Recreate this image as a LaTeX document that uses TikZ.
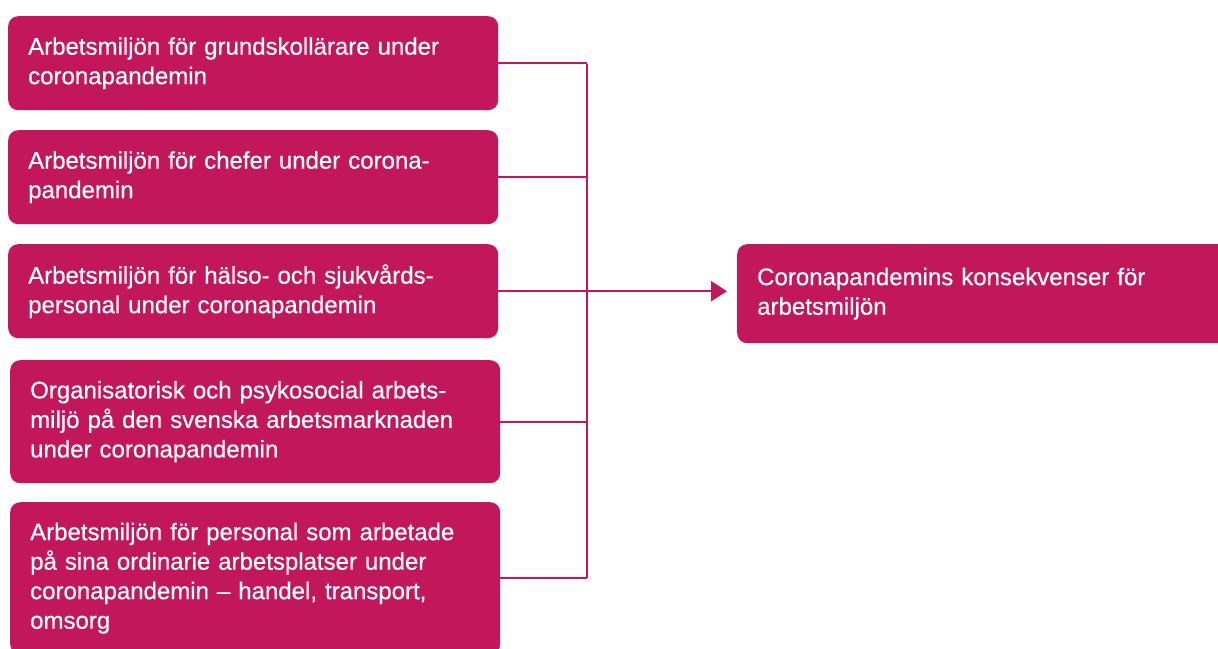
\documentclass[tikz,border=0pt]{standalone}
\usepackage{fontspec}
\setmainfont{Liberation Sans}[FakeBold=0.5]
\usetikzlibrary{arrows.meta}
\definecolor{rasp}{HTML}{C2185B}
\begin{document}
\begin{tikzpicture}[x=1pt,y=-1pt,
  box/.style={fill=rasp, rounded corners=10pt, anchor=north west, inner xsep=20pt, inner ysep=0pt,
    text=white, align=left, font=\fontsize{24}{29.5}\selectfont},
  conn/.style={draw=rasp, line width=2.4pt}]
\useasboundingbox (0,0) rectangle (1218,648);
\clip (0,0) rectangle (1218,648);
\node[box, minimum width=490pt, minimum height=94pt, text width=450pt] (b1) at (8,16)
  {Arbetsmiljön för grundskollärare under\\coronapandemin};
\node[box, minimum width=490pt, minimum height=94pt, text width=450pt] (b2) at (8,130)
  {Arbetsmiljön för chefer under corona-\\pandemin};
\node[box, minimum width=490pt, minimum height=94pt, text width=450pt] (b3) at (8,244)
  {Arbetsmiljön för hälso- och sjukvårds-\\personal under coronapandemin};
\node[box, minimum width=490pt, minimum height=123pt, text width=450pt] (b4) at (10,360)
  {Organisatorisk och psykosocial arbets-\\miljö på den svenska arbetsmarknaden\\under coronapandemin};
\node[box, minimum width=490pt, minimum height=152pt, text width=450pt] (b5) at (10,502)
  {Arbetsmiljön för personal som arbetade\\på sina ordinarie arbetsplatser under\\coronapandemin – handel, transport,\\omsorg};
\node[box, minimum width=500pt, minimum height=99pt, text width=460pt] (res) at (737,244)
  {Coronapandemins konsekvenser för\\arbetsmiljön};
\coordinate (bt) at (587,64);
\coordinate (bb) at (587,578);
\draw[conn] (bt) -- (bb);
\draw[conn] (b1.east) -- (b1.east -| bt);
\draw[conn] (b2.east) -- (b2.east -| bt);
\draw[conn] (b4.east) -- (b4.east -| bt);
\draw[conn] (b5.east) -- (b5.east -| bt);
\draw[conn, -{Triangle[length=16pt,width=20pt]}, shorten >=10pt] (b3.east) -- (res.west |- b3.east);
\end{tikzpicture}
\end{document}
